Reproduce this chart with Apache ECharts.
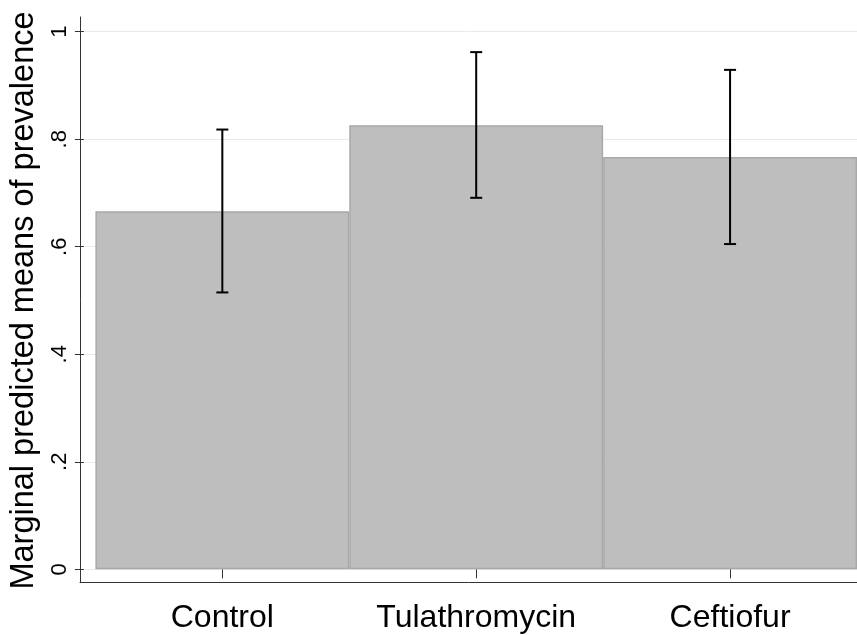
<!DOCTYPE html>
<html>
<head>
<meta charset="utf-8">
<script src="https://cdn.jsdelivr.net/npm/echarts@6/dist/echarts.min.js"></script>
<style>
html,body{margin:0;padding:0;background:#fff;}
#chart{width:857px;height:635px;}
</style>
</head>
<body>
<div id="chart"></div>
<script>
const categories = ['Control', 'Tulathromycin', 'Ceftiofur'];
const means = [0.666, 0.826, 0.767];
const ciLow = [0.515, 0.691, 0.605];
const ciHigh = [0.818, 0.962, 0.929];
const yTickValues = [0, 0.2, 0.4, 0.6, 0.8, 1];
const yTickLabels = ['0', '.2', '.4', '.6', '.8', '1'];
const yTitle = 'Marginal predicted means of prevalence';

const FONT = '"Liberation Sans", Arial, Helvetica, sans-serif';
const chart = echarts.init(document.getElementById('chart'), null, {renderer: 'canvas'});

function tickLabel(v) {
  for (let i = 0; i < yTickValues.length; i++) {
    if (Math.abs(yTickValues[i] - v) < 1e-6) return yTickLabels[i];
  }
  return '';
}

const option = {
  backgroundColor: '#ffffff',
  animation: false,
  grid: [
    {left: 80, right: 0, top: 31.7, bottom: 65.7},
    {left: 95.4, right: -2, top: 31.7, bottom: 65.7},
    {left: 80, right: -5, top: 17, bottom: 52.3}
  ],
  xAxis: [
    {gridIndex: 0, type: 'value', min: 0, max: 1, show: false},
    {
      gridIndex: 1, type: 'category', data: categories, boundaryGap: true,
      offset: 13.4,
      axisLine: {show: false},
      axisTick: {show: true, interval: 0, alignWithLabel: true, length: 9, lineStyle: {color: '#333', width: 1}},
      axisLabel: {interval: 0, hideOverlap: false, fontSize: 32, margin: 19, color: '#000', fontFamily: FONT},
      splitLine: {show: false}
    },
    {
      gridIndex: 2, type: 'value', min: 0, max: 1,
      axisLine: {show: true, lineStyle: {color: '#333', width: 1}},
      axisTick: {show: false}, axisLabel: {show: false}, splitLine: {show: false}
    }
  ],
  yAxis: [
    {
      gridIndex: 0, type: 'value', min: 0, max: 1, interval: 0.2,
      axisLine: {show: false},
      axisTick: {show: true, length: 9, lineStyle: {color: '#333', width: 1}},
      axisLabel: {rotate: 90, fontSize: 22, margin: 13, color: '#000', fontFamily: FONT, formatter: tickLabel},
      splitLine: {show: true, lineStyle: {color: '#e9e9e9', width: 1}},
      name: yTitle, nameLocation: 'middle', nameGap: 41, nameRotate: 90,
      nameTextStyle: {fontSize: 32.5, color: '#000', fontFamily: FONT}
    },
    {gridIndex: 1, type: 'value', min: 0, max: 1, show: false, splitLine: {show: false}},
    {
      gridIndex: 2, type: 'value', min: 0, max: 1,
      axisLine: {show: true, lineStyle: {color: '#333', width: 1}},
      axisTick: {show: false}, axisLabel: {show: false}, splitLine: {show: false}
    }
  ],
  series: [
    {
      type: 'bar', xAxisIndex: 1, yAxisIndex: 1,
      data: means, barWidth: '100%',
      itemStyle: {color: '#bebebe', borderColor: '#a8a8a8', borderWidth: 1.5},
      z: 2
    },
    {
      type: 'custom', xAxisIndex: 1, yAxisIndex: 1,
      data: categories.map((c, i) => [i, ciLow[i], ciHigh[i]]),
      z: 5,
      renderItem: function (params, api) {
        const i = api.value(0);
        const lo = api.coord([i, api.value(1)]);
        const hi = api.coord([i, api.value(2)]);
        const half = 6;
        const st = {stroke: '#000', lineWidth: 2};
        return {
          type: 'group',
          children: [
            {type: 'line', shape: {x1: lo[0], y1: lo[1], x2: hi[0], y2: hi[1]}, style: st},
            {type: 'line', shape: {x1: lo[0] - half, y1: lo[1], x2: lo[0] + half, y2: lo[1]}, style: st},
            {type: 'line', shape: {x1: hi[0] - half, y1: hi[1], x2: hi[0] + half, y2: hi[1]}, style: st}
          ]
        };
      }
    }
  ]
};
chart.setOption(option);
</script>
</body>
</html>
